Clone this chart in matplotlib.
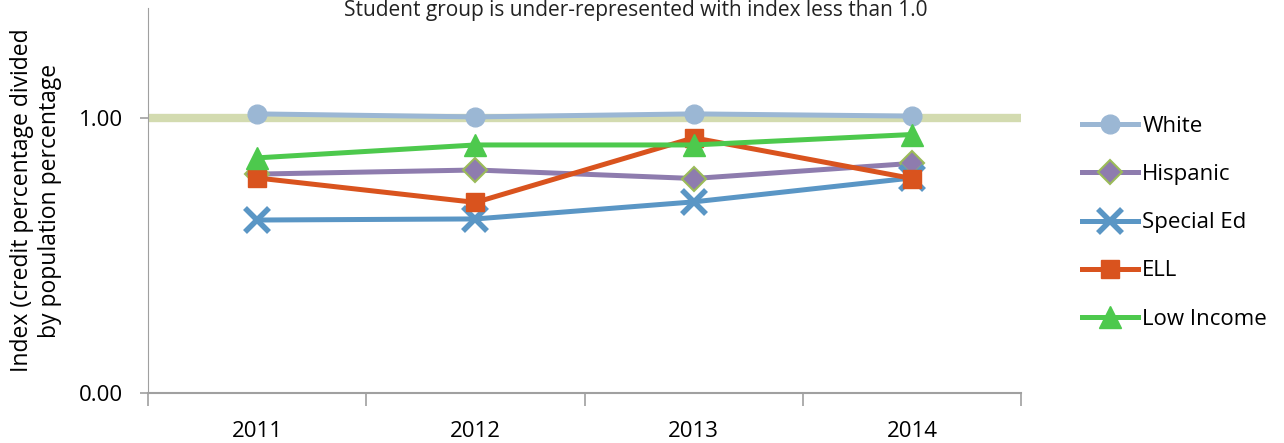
import matplotlib.pyplot as plt
import numpy as np

years = ['2011', '2012', '2013', '2014']
white = [1.015, 1.004, 1.015, 1.007]
hispanic = [0.796, 0.811, 0.780, 0.835]
special_ed = [0.629, 0.633, 0.695, 0.782]
ell = [0.782, 0.693, 0.928, 0.780]
low_income = [0.855, 0.902, 0.902, 0.940]

plt.rcParams['font.family'] = ['Open Sans', 'DejaVu Sans']

fig = plt.figure(figsize=(12.84, 4.43), dpi=100)
ax = fig.add_axes([0.1153, 0.1129, 0.6800, 0.8690])

x = np.arange(len(years))

# reference line at 1.0
ax.plot([-0.5, 3.5], [1.0, 1.0], color='#D3DBB0', lw=6, solid_capstyle='butt', zorder=1)

ax.plot(x, white, color='#9BB7D4', lw=3.6, marker='o', ms=13.5, label='White', zorder=3)
ax.plot(x, hispanic, color='#8E7CAE', lw=3.6, marker='D', ms=12, mfc='#8E7CAE',
        mec='#9BBB59', mew=1.5, label='Hispanic', zorder=3)
ax.plot(x, special_ed, color='#5A96C5', lw=3.6, marker='x', ms=17, mew=4, label='Special Ed', zorder=3)
ax.plot(x, ell, color='#D9531E', lw=3.6, marker='s', ms=12.5, label='ELL', zorder=4)
ax.plot(x, low_income, color='#4DC94D', lw=3.6, marker='^', ms=16, label='Low Income', zorder=4)

ax.set_xlim(-0.5, 3.5)
ax.set_ylim(0, 1.4)
ax.set_yticks([0, 1])
ax.set_yticklabels(['0.00', '1.00'])
ax.set_xticks(x)
ax.set_xticklabels(years)
ax.set_xticks(np.arange(-0.5, 4, 1), minor=True)
ax.tick_params(axis='x', which='major', length=0, pad=20, labelsize=16)
ax.tick_params(axis='x', which='minor', length=9, color='#A0A0A0', width=1.2)
ax.tick_params(axis='y', length=6, color='#A0A0A0', width=1.2, labelsize=16, pad=12)

for s in ['top', 'right']:
    ax.spines[s].set_visible(False)
ax.spines['left'].set_color('#A0A0A0')
ax.spines['bottom'].set_color('#A0A0A0')
ax.spines['bottom'].set_linewidth(1.5)

ax.set_ylabel('Index (credit percentage divided\nby population percentage', fontsize=16.5,
              labelpad=12, linespacing=1.25)

fig.text(0.495, 1.0, 'Student group is under-represented with index less than 1.0',
         ha='center', va='top', fontsize=15, color='#222222')

ax.legend(loc='upper left', bbox_to_anchor=(0.836, 0.758), bbox_transform=fig.transFigure,
          borderaxespad=0, frameon=False, fontsize=16,
          handlelength=2.5, labelspacing=1.22, handletextpad=0.2)

fig.savefig('out.png', dpi=100)
